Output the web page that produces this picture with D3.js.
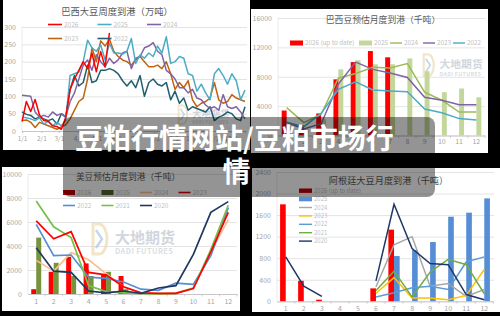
<!DOCTYPE html>
<html>
<head>
<meta charset="utf-8">
<script src="https://cdn.jsdelivr.net/npm/d3@7"></script>
<style>
body { margin: 0; background: #000; }
svg { display: block; font-family: "Noto Sans CJK SC", "Noto Sans", sans-serif; }
</style>
</head>
<body>
<div id="chart"></div>
<script>
// ---------- data ----------
// 巴西大豆周度到港（万吨）, weekly
var bzWeekYears = ["2026", "2025", "2024", "2023", "2022"];
var bzWeek2026 = [27, 85, 56, 91, 46, 30, 28, 15, 13, 5, 40, 120, 150, 175, 200, 180, 225, 171, 229, 185, 283];
var bzWeek2025 = [40, 38, 35, 30, 38, 20, 28, 15, 25, 15, 30, 160, 165, 170, 200, 262, 240, 230, 248, 205, 253, 225, 225, 222, 230, 267, 195, 220, 210, 225, 215, 245, 225, 272, 195, 200, 215, 210, 165, 160, 115, 135, 110, 90, 165, 180, 160, 135, 165, 145, 90, 118];
var bzWeek2024 = [103, 102, 100, 55, 40, 45, 40, 55, 45, 50, 40, 85, 110, 150, 190, 205, 175, 220, 200, 185, 210, 195, 205, 225, 230, 180, 210, 215, 240, 245, 255, 230, 220, 175, 165, 150, 125, 125, 110, 120, 95, 90, 75, 65, 70, 60, 105, 70, 65, 70, 55, 35];
var bzWeek2023 = [30, 32, 25, 10, 25, 20, 15, 10, 5, 12, 18, 35, 60, 85, 95, 150, 240, 200, 260, 245, 265, 230, 215, 205, 200, 190, 205, 215, 200, 185, 185, 190, 180, 200, 165, 120, 140, 125, 145, 90, 70, 80, 85, 95, 140, 90, 80, 85, 105, 95, 90, 85];
var bzWeek2022 = [55, 48, 45, 35, 40, 35, 30, 35, 20, 50, 40, 120, 160, 130, 140, 190, 140, 145, 175, 175, 180, 175, 165, 145, 130, 145, 125, 160, 100, 140, 150, 135, 130, 140, 90, 115, 80, 95, 60, 70, 65, 60, 55, 70, 30, 40, 45, 55, 50, 35, 30, 70];
var weekTickLabels = ["1/1", "2/1", "3/1", "4/1", "5/1", "6/1", "7/1", "8/1", "9/1", "10/1", "11/1", "12/1"];
var bzWeekTicks = [0, 50, 100, 150, 200, 250, 300];

var months = ["1", "2", "3", "4", "5", "6", "7", "8", "9", "10", "11", "12"];

// 巴西豆预估月度到港（千吨）
var bzMonth2026 = [3400, 1400, 3000, 7650, 10000, 11500, 10650];
var bzMonth2025 = [1200, 800, 2200, 9000, 10250, 9700, 9700, 10500, 8750, 5900, 6400, 5200];
var bzMonth2024 = [3800, 1750, 2900, 7800, 8450, 9300, 9200, 9800, 5900, 4800, 3200, 3200];
var bzMonth2023 = [1800, 900, 1600, 7000, 10000, 9000, 8500, 7900, 5200, 4800, 4200, 4200];
var bzMonth2022 = [1800, 1200, 3000, 6300, 7300, 6200, 6050, 5950, 3600, 3100, 2300, 2100];
var bzMonthTicks = [0, 4000, 8000, 12000, 16000];

// 美豆预估月度到港（千吨）
var usMonth2026 = [400, 1850, 3100, 2550, 1650, 1500];
var usMonth2025 = [4700, 2600, 1500, 1500, 1850, 400, 0, 0, 0, 0, 0, 0];
var usMonth2024 = [2800, 1900, 3450, 2850, 1700, 600, 100, 50, 100, 500, 3500, 6200];
var usMonth2023 = [6100, 4600, 5200, 1800, 1600, 600, 100, 50, 50, 450, 3500, 6800];
var usMonth2022 = [5800, 3200, 3250, 1400, 1300, 1000, 400, 300, 900, 800, 3200, 7200];
var usMonth2021 = [7750, 5600, 4700, 700, 200, 100, 30, 0, 50, 500, 3700, 7400];
var usMonth2020 = [3850, 1900, 1800, 250, 100, 250, 50, 500, 700, 3300, 6800, 7700];
var usMonthTicks = [0, 2000, 4000, 6000, 8000, 10000];

// 阿根廷大豆月度到港（千吨）; null = no data
var arMonth2026 = [1800, 380, 30, 0, 0, 240, 1330];
var arMonth2025 = [0, 0, 0, 0, 0, 0, 840, 950, 1100, 1570, 1645, 1910];
var arMonth2024 = [null, null, null, null, null, 270, 1050, 1200, 280, 330, 90, 220];
var arMonth2023 = [null, null, null, null, null, 150, 440, 60, 60, 30, 110, 590];
var arMonth2022 = [null, null, null, null, null, 80, 160, 250, 280, 220, 730, 825];
var arMonth2021 = [null, null, null, null, null, 200, 560, 80, 545, 780, 680, 140];
var arMonth2020 = [825, 280, 90, null, null, 380, 1800, 980, 700, 680, 125, 30];
var arMonthTicks = [0, 400, 800, 1200, 1600, 2000, 2400];

var overlayLines = ["豆粕行情网站/豆粕市场行", "情"];

// ---------- drawing ----------
var svg = d3.select("#chart").append("svg")
    .attr("width", 500)
    .attr("height", 316);

svg.append("rect").attr("width", 500).attr("height", 316).attr("fill", "#000");

var axisGrey = "#a6a6a6";

function panel(x0, y0, x1, y1) {
    svg.append("rect")
        .attr("x", x0).attr("y", y0)
        .attr("width", x1 - x0).attr("height", y1 - y0)
        .attr("fill", "#fff");
}

function yAxisGrid(g, y, ticks, x0, x1) {
    var ax = g.append("g")
        .attr("transform", "translate(" + x0 + ",0)")
        .call(d3.axisLeft(y).tickValues(ticks).tickFormat(d3.format("d"))
            .tickSize(-(x1 - x0)).tickPadding(6));
    ax.select(".domain").remove();
    ax.selectAll("line").attr("stroke", "#d9d9d9").attr("stroke-width", 0.7);
    ax.selectAll("text").attr("fill", axisGrey).attr("font-size", 7).attr("font-family", "Noto Sans CJK SC");
    g.append("line")
        .attr("x1", x0).attr("x2", x0)
        .attr("y1", y(ticks[ticks.length - 1])).attr("y2", y(0))
        .attr("stroke", "#e3e3e3").attr("stroke-width", 0.7);
}

function xAxisBand(g, x, y0, pad) {
    var ax = g.append("g")
        .attr("transform", "translate(0," + y0 + ")")
        .call(d3.axisBottom(x).tickSize(0).tickPadding(pad));
    ax.select(".domain").attr("stroke", "#bfbfbf").attr("stroke-width", 0.8);
    ax.selectAll("text").attr("fill", axisGrey).attr("font-size", 7).attr("font-family", "Noto Sans CJK SC");
    // small category ticks like the spreadsheet chart
    g.append("g").selectAll("line")
        .data(months)
        .enter().append("line")
        .attr("x1", function (d) { return x(d) + x.step(); })
        .attr("x2", function (d) { return x(d) + x.step(); })
        .attr("y1", y0).attr("y2", y0 + 2.5)
        .attr("stroke", "#bfbfbf").attr("stroke-width", 0.7);
}

function title(g, x, y, size, txt) {
    g.append("text")
        .attr("x", x).attr("y", y)
        .attr("text-anchor", "middle")
        .attr("font-size", size)
        .attr("fill", "#595959")
        .text(txt);
}

function watermark(g, x, y, s) {
    var w = g.append("g")
        .attr("transform", "translate(" + x + "," + y + ") scale(" + s + ")")
        .attr("opacity", 0.6);
    w.append("path")
        .attr("d", "M1,2 h6 a8,15 0 0 1 0,30 h-6 z")
        .attr("fill", "none").attr("stroke", "#e9d6a6").attr("stroke-width", 3);
    w.append("path")
        .attr("d", "M4,8 l6,9 l-6,9")
        .attr("fill", "none").attr("stroke", "#9fbbdb").attr("stroke-width", 2.4);
    w.append("text")
        .attr("x", 23).attr("y", 21)
        .attr("font-size", 15).attr("font-weight", "bold")
        .attr("fill", "#b3bcc7").text("大地期货");
    w.append("text")
        .attr("x", 23).attr("y", 32)
        .attr("font-size", 7.4).attr("font-weight", "bold")
        .attr("letter-spacing", 0.4)
        .attr("fill", "#c4cbd3").text("DADI FUTURES");
}

// ===== chart 1: 巴西大豆周度到港 =====
panel(3, 0, 250, 150);
var g1 = svg.append("g");
var x1 = d3.scaleLinear().domain([0, 51]).range([22, 245]);
var y1 = d3.scaleLinear().domain([0, 300]).range([131, 27]);
yAxisGrid(g1, y1, bzWeekTicks, 22, 247);

var yr = 2025;
var tickWeeks = d3.timeMonth.range(new Date(yr, 0, 1), new Date(yr, 11, 2))
    .map(function (d) { return d3.timeDay.count(new Date(yr, 0, 1), d) / 7; });
var ax1 = g1.append("g")
    .attr("transform", "translate(0,131)")
    .call(d3.axisBottom(x1).tickValues(tickWeeks)
        .tickFormat(function (d, i) { return weekTickLabels[i]; })
        .tickSize(2).tickPadding(3));
ax1.select(".domain").attr("stroke", "#bfbfbf").attr("stroke-width", 0.8);
ax1.selectAll("line").attr("stroke", "#bfbfbf");
ax1.selectAll("text").attr("fill", axisGrey).attr("font-size", 6.5).attr("font-family", "Noto Sans CJK SC");

watermark(g1, 178, 104, 0.62);
title(g1, 117, 15, 9.3, "巴西大豆周度到港（万吨）");

var wkColors = ["#ff0000", "#4bacc6", "#8064a2", "#c0630f", "#215f6e"];
var wkSeries = [bzWeek2022, bzWeek2023, bzWeek2024, bzWeek2025, bzWeek2026];
var wkSeriesColors = [wkColors[4], wkColors[3], wkColors[2], wkColors[1], wkColors[0]];
var line1 = d3.line()
    .x(function (d, i) { return x1(i); })
    .y(function (d) { return y1(d); });
g1.append("g").selectAll("path")
    .data(wkSeries)
    .enter().append("path")
    .attr("d", line1)
    .attr("fill", "none")
    .attr("stroke", function (d, i) { return wkSeriesColors[i]; })
    .attr("stroke-width", 1.5)
    .attr("stroke-linejoin", "round");

var lg1 = g1.append("g").selectAll("g")
    .data(bzWeekYears)
    .enter().append("g")
    .attr("transform", function (d, i) { return "translate(" + (48 + (i % 3) * 49.5) + "," + (24.5 + Math.floor(i / 3) * 14) + ")"; });
lg1.append("line").attr("x2", 14)
    .attr("stroke", function (d, i) { return wkColors[i]; })
    .attr("stroke-width", 1.6);
lg1.append("text").attr("x", 16).attr("dy", "0.35em")
    .attr("font-size", 6.5).attr("fill", "#bfbfbf")
    .text(function (d) { return d; });

// ===== chart 2: 巴西豆预估月度到港 =====
panel(251, 9, 488, 153);
var g2 = svg.append("g");
var x2 = d3.scaleBand().domain(months).range([278, 485]);
var y2 = d3.scaleLinear().domain([0, 16000]).range([135.5, 18]);
yAxisGrid(g2, y2, bzMonthTicks, 278, 485);
watermark(g2, 423, 53, 0.72);
title(g2, 383, 23, 8.8, "巴西豆预估月度到港（千吨）");

var sub2 = d3.scaleBand().domain(["a", "b"]).range([0, x2.bandwidth()]).paddingOuter(0.75);
g2.append("g").selectAll("rect")
    .data(bzMonth2025)
    .enter().append("rect")
    .attr("x", function (d, i) { return x2(months[i]) + sub2("b"); })
    .attr("y", function (d) { return y2(d); })
    .attr("width", sub2.bandwidth())
    .attr("height", function (d) { return y2(0) - y2(d); })
    .attr("fill", "#c4d79b");
g2.append("g").selectAll("rect")
    .data(bzMonth2026)
    .enter().append("rect")
    .attr("x", function (d, i) { return x2(months[i]) + sub2("a"); })
    .attr("y", function (d) { return y2(d); })
    .attr("width", sub2.bandwidth())
    .attr("height", function (d) { return y2(0) - y2(d); })
    .attr("fill", "#ff0000");
xAxisBand(g2, x2, 135.5, 4);

var line2 = d3.line()
    .x(function (d, i) { return x2(months[i]) + x2.bandwidth() / 2; })
    .y(function (d) { return y2(d); });
var bz2Lines = [bzMonth2024, bzMonth2023, bzMonth2022];
var bz2Colors = ["#9bbb59", "#8064a2", "#4bacc6"];
g2.append("g").selectAll("path")
    .data(bz2Lines)
    .enter().append("path")
    .attr("d", line2)
    .attr("fill", "none")
    .attr("stroke", function (d, i) { return bz2Colors[i]; })
    .attr("stroke-width", 1.5);

var lg2Items = [
    { t: "2026 (up to date)", c: "#ff0000", bar: true, x: 290 },
    { t: "2025", c: "#c4d79b", bar: true, x: 359 },
    { t: "2024", c: "#9bbb59", bar: false, x: 390 },
    { t: "2023", c: "#8064a2", bar: false, x: 423 },
    { t: "2022", c: "#4bacc6", bar: false, x: 453 }
];
var lg2 = g2.append("g").selectAll("g")
    .data(lg2Items)
    .enter().append("g")
    .attr("transform", function (d) { return "translate(" + d.x + ",43)"; });
lg2.append("rect")
    .attr("y", function (d) { return d.bar ? -2.5 : -0.7; })
    .attr("width", function (d) { return d.bar ? 13 : 12; })
    .attr("height", function (d) { return d.bar ? 5 : 1.4; })
    .attr("fill", function (d) { return d.c; });
lg2.append("text")
    .attr("x", function (d) { return d.bar ? 15 : 14; })
    .attr("dy", "0.35em")
    .attr("font-size", 6.3).attr("fill", "#bfbfbf")
    .text(function (d) { return d.t; });

// ===== chart 3: 美豆预估月度到港 =====
panel(2, 167, 240, 311);
var g3 = svg.append("g");
var x3 = d3.scaleBand().domain(months).range([27.5, 237]);
var y3 = d3.scaleLinear().domain([0, 10000]).range([294, 174]);
yAxisGrid(g3, y3, usMonthTicks, 28, 237);
watermark(g3, 92, 222, 1);
title(g3, 128, 180, 8.7, "美豆预估月度到港（千吨）");

var sub3 = d3.scaleBand().domain(["a", "b"]).range([0, x3.bandwidth()]).paddingOuter(0.75);
g3.append("g").selectAll("rect")
    .data(usMonth2026)
    .enter().append("rect")
    .attr("x", function (d, i) { return x3(months[i]) + sub3("a"); })
    .attr("y", function (d) { return y3(d); })
    .attr("width", sub3.bandwidth())
    .attr("height", function (d) { return y3(0) - y3(d); })
    .attr("fill", "#ff0000");
g3.append("g").selectAll("rect")
    .data(usMonth2025)
    .enter().append("rect")
    .attr("x", function (d, i) { return x3(months[i]) + sub3("b"); })
    .attr("y", function (d) { return y3(d); })
    .attr("width", sub3.bandwidth())
    .attr("height", function (d) { return y3(0) - y3(d); })
    .attr("fill", "#77933c");
xAxisBand(g3, x3, 294, 5);

var line3 = d3.line()
    .x(function (d, i) { return x3(months[i]) + x3.bandwidth() / 2; })
    .y(function (d) { return y3(d); });
var us3Lines = [usMonth2024, usMonth2022, usMonth2021, usMonth2023, usMonth2020];
var us3Colors = ["#f8bf8f", "#558ed5", "#77bf4a", "#ff0000", "#1f3864"];
g3.append("g").selectAll("path")
    .data(us3Lines)
    .enter().append("path")
    .attr("d", line3)
    .attr("fill", "none")
    .attr("stroke", function (d, i) { return us3Colors[i]; })
    .attr("stroke-width", 1.7);

var lg3Items = [
    { t: "2026", c: "#c00000", bar: true },
    { t: "2025", c: "#4f6228", bar: true },
    { t: "2024", c: "#f8bf8f", bar: false },
    { t: "2023", c: "#e00000", bar: false },
    { t: "2022", c: "#558ed5", bar: false },
    { t: "2021", c: "#77bf4a", bar: false },
    { t: "2020", c: "#1f3864", bar: false }
];
var lg3 = g3.append("g").selectAll("g")
    .data(lg3Items)
    .enter().append("g")
    .attr("transform", function (d, i) { return "translate(" + (63 + (i % 4) * 38.5) + "," + (192.5 + Math.floor(i / 4) * 13) + ")"; });
lg3.append("rect")
    .attr("y", function (d) { return d.bar ? -2.5 : -0.8; })
    .attr("width", 12)
    .attr("height", function (d) { return d.bar ? 5 : 1.6; })
    .attr("fill", function (d) { return d.c; });
lg3.append("text")
    .attr("x", 14).attr("dy", "0.35em")
    .attr("font-size", 6.5).attr("fill", "#bfbfbf")
    .text(function (d) { return d.t; });

// ===== chart 4: 阿根廷大豆月度到港 =====
panel(252, 168, 500, 312);
var g4 = svg.append("g");
var x4 = d3.scaleBand().domain(months).range([276.7, 493.3]);
var y4 = d3.scaleLinear().domain([0, 2400]).range([301.3, 172]);
yAxisGrid(g4, y4, arMonthTicks, 277, 494);
title(g4, 388.5, 184, 9.2, "阿根廷大豆月度到港（千吨）");

var sub4 = d3.scaleBand().domain(["a", "b"]).range([0, x4.bandwidth()]).paddingOuter(0.6);
g4.append("g").selectAll("rect")
    .data(arMonth2026)
    .enter().append("rect")
    .attr("x", function (d, i) { return x4(months[i]) + sub4("a"); })
    .attr("y", function (d) { return y4(d); })
    .attr("width", sub4.bandwidth())
    .attr("height", function (d) { return y4(0) - y4(d); })
    .attr("fill", "#ff0000");
g4.append("g").selectAll("rect")
    .data(arMonth2025)
    .enter().append("rect")
    .attr("x", function (d, i) { return x4(months[i]) + sub4("b"); })
    .attr("y", function (d) { return y4(d); })
    .attr("width", sub4.bandwidth())
    .attr("height", function (d) { return y4(0) - y4(d); })
    .attr("fill", "#558ed5");
xAxisBand(g4, x4, 301.3, 5);

var line4 = d3.line()
    .defined(function (d) { return d !== null; })
    .x(function (d, i) { return x4(months[i]) + x4.bandwidth() / 2; })
    .y(function (d) { return y4(d); });
var ar4Lines = [arMonth2024, arMonth2023, arMonth2022, arMonth2021, arMonth2020];
var ar4Colors = ["#a6a6a6", "#ffc000", "#5b9bd5", "#70ad47", "#1f3864"];
g4.append("g").selectAll("path")
    .data(ar4Lines)
    .enter().append("path")
    .attr("d", line4)
    .attr("fill", "none")
    .attr("stroke", function (d, i) { return ar4Colors[i]; })
    .attr("stroke-width", 1.5);

var lg4Items = [
    { t: "2026 (up to date)", c: "#c00000", bar: true },
    { t: "2025", c: "#558ed5", bar: true },
    { t: "2024", c: "#a6a6a6", bar: false },
    { t: "2023", c: "#ffc000", bar: false },
    { t: "2022", c: "#5b9bd5", bar: false },
    { t: "2021", c: "#70ad47", bar: false },
    { t: "2020", c: "#1f3864", bar: false }
];
var lg4 = g4.append("g").selectAll("g")
    .data(lg4Items)
    .enter().append("g")
    .attr("transform", function (d, i) { return "translate(299," + (190.7 + i * 8.4) + ")"; });
lg4.append("rect")
    .attr("y", function (d) { return d.bar ? -2.2 : -0.7; })
    .attr("width", 13)
    .attr("height", function (d) { return d.bar ? 4.4 : 1.4; })
    .attr("fill", function (d) { return d.c; });
lg4.append("text")
    .attr("x", 15).attr("dy", "0.35em")
    .attr("font-size", 6).attr("fill", "#bfbfbf")
    .text(function (d) { return d.t; });

// ===== overlay title =====
svg.append("rect")
    .attr("x", 63).attr("y", 117)
    .attr("width", 372).attr("height", 80)
    .attr("rx", 8)
    .attr("fill", "rgba(0,0,0,0.42)");

svg.append("g").selectAll("text")
    .data(overlayLines)
    .enter().append("text")
    .attr("x", function (d, i) { return i === 0 ? 75 : 236.5; })
    .attr("y", function (d, i) { return 149 + i * 33; })
    .attr("text-anchor", function (d, i) { return i === 0 ? "start" : "middle"; })
    .attr("font-size", 28)
    .attr("font-weight", "bold")
    .attr("fill", "#fff")
    .text(function (d) { return d; });
</script>
</body>
</html>
